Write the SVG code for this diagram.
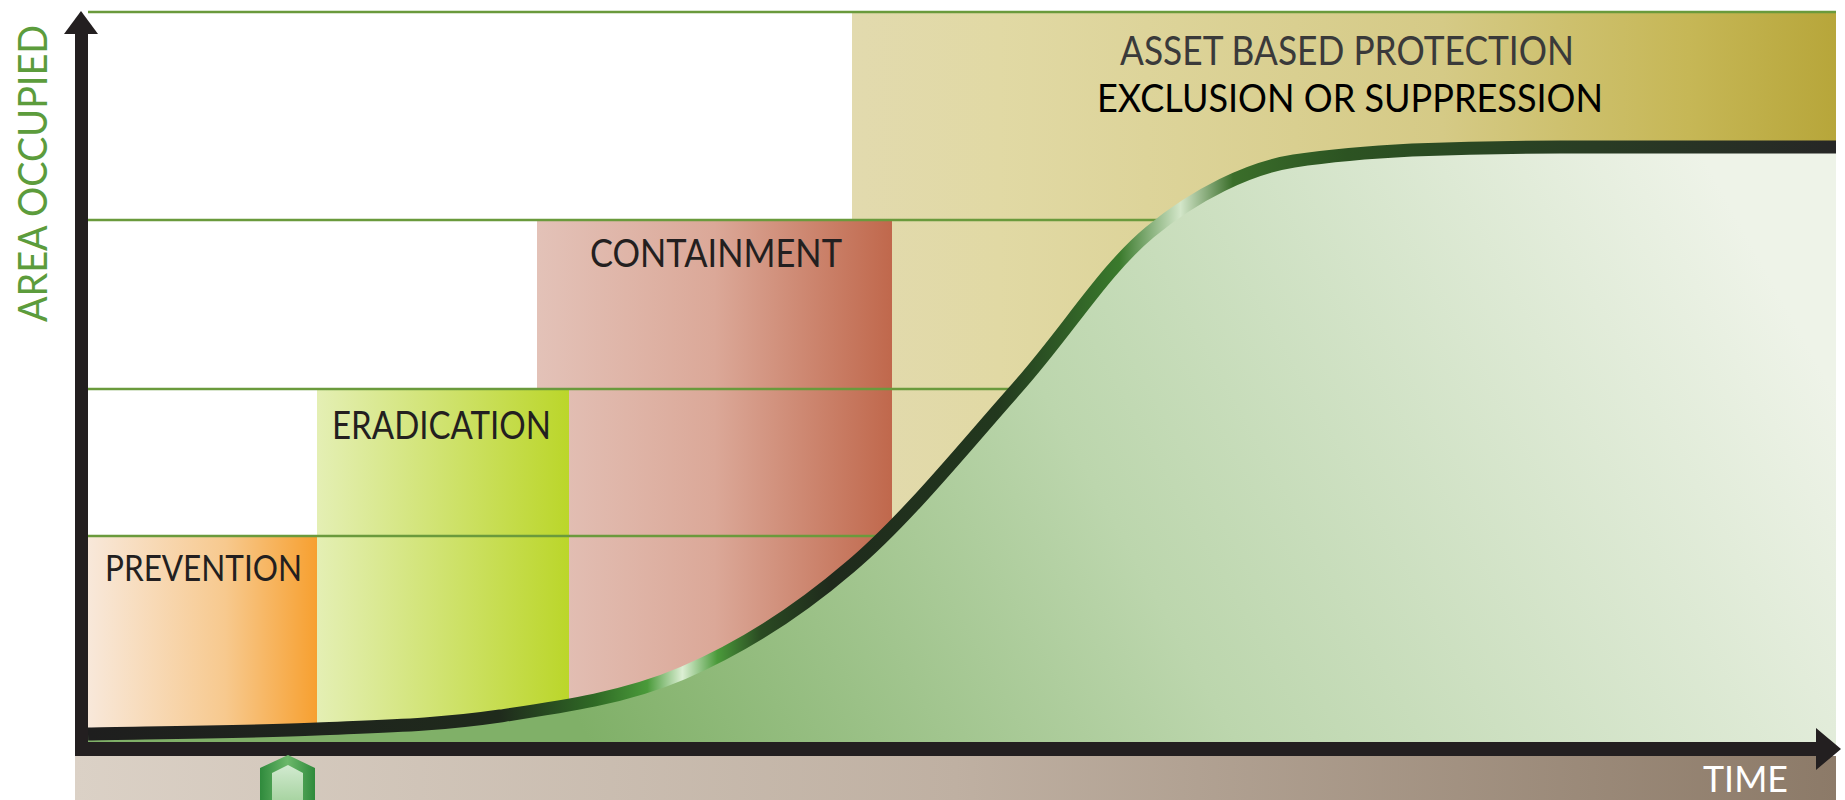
<svg xmlns="http://www.w3.org/2000/svg" width="1845" height="800" viewBox="0 0 1845 800">
<defs>
<linearGradient id="gPrev" x1="0" y1="0" x2="1" y2="0"><stop offset="0" stop-color="#f8e8da"/><stop offset="0.6" stop-color="#f7c98e"/><stop offset="1" stop-color="#f7a030"/></linearGradient>
<linearGradient id="gErad" x1="0" y1="0" x2="1" y2="0"><stop offset="0" stop-color="#e4efb4"/><stop offset="1" stop-color="#bbd62a"/></linearGradient>
<linearGradient id="gCont" x1="0" y1="0" x2="1" y2="0"><stop offset="0" stop-color="#e3c2b8"/><stop offset="0.5" stop-color="#dba898"/><stop offset="1" stop-color="#c0684c"/></linearGradient>
<linearGradient id="gAsset" x1="0" y1="0" x2="1" y2="0"><stop offset="0" stop-color="#e2daae"/><stop offset="0.15" stop-color="#e1d9a4"/><stop offset="0.6" stop-color="#d5ca86"/><stop offset="0.85" stop-color="#c6b756"/><stop offset="1" stop-color="#b7a63a"/></linearGradient>
<linearGradient id="gArea" gradientUnits="userSpaceOnUse" x1="600" y1="760" x2="1700" y2="150"><stop offset="0" stop-color="#80b068"/><stop offset="0.45" stop-color="#bcd6ad"/><stop offset="1" stop-color="#eef3e8"/></linearGradient>
<linearGradient id="gBand" x1="0" y1="0" x2="1" y2="0"><stop offset="0" stop-color="#dbd1c6"/><stop offset="0.5" stop-color="#bfb0a2"/><stop offset="1" stop-color="#8c7a68"/></linearGradient>
<linearGradient id="gCurve" gradientUnits="userSpaceOnUse" x1="88" y1="0" x2="1836" y2="0">
<stop offset="0" stop-color="#1e1e1e"/>
<stop offset="0.235" stop-color="#1f2a1c"/>
<stop offset="0.29" stop-color="#2f6a25"/>
<stop offset="0.32" stop-color="#4a9a3a"/>
<stop offset="0.34" stop-color="#dcefd4"/>
<stop offset="0.36" stop-color="#4a9a3a"/>
<stop offset="0.385" stop-color="#2a4a22"/>
<stop offset="0.425" stop-color="#1f2a1c"/>
<stop offset="0.52" stop-color="#22381e"/>
<stop offset="0.59" stop-color="#3a7a2c"/>
<stop offset="0.625" stop-color="#d3e6c9"/>
<stop offset="0.655" stop-color="#3a6e2a"/>
<stop offset="0.72" stop-color="#2c5322"/>
<stop offset="1" stop-color="#262626"/>
</linearGradient>
<linearGradient id="gArrowOuter" x1="0" y1="0" x2="1" y2="0"><stop offset="0" stop-color="#2f8a3c"/><stop offset="0.5" stop-color="#6cb86a"/><stop offset="1" stop-color="#2f8a3c"/></linearGradient>
<linearGradient id="gArrowInner" x1="0" y1="0" x2="0" y2="1"><stop offset="0" stop-color="#d2ead0"/><stop offset="1" stop-color="#a8d4a2"/></linearGradient>
<style>
.lbl{font-family:Lato,"Open Sans","Liberation Sans",sans-serif;fill:#231f20;}
.grid{stroke:#6a9a3c;stroke-width:2.5;fill:none;}
.axis{fill:#231f20;}
</style>
</defs>
<rect width="1845" height="800" fill="#ffffff"/>

<g id="asset-box"><rect x="852" y="13" width="984" height="730" fill="url(#gAsset)"/></g>
<g id="containment-box"><rect x="537" y="220" width="355" height="523" fill="url(#gCont)"/></g>
<g id="eradication-box"><rect x="317" y="389" width="252" height="354" fill="url(#gErad)"/></g>
<g id="prevention-box"><rect x="88" y="536" width="229" height="207" fill="url(#gPrev)"/></g>

<g id="gridlines">
<line class="grid" x1="88" y1="12" x2="1836" y2="12"/>
<line class="grid" x1="88" y1="220" x2="1836" y2="220"/>
<line class="grid" x1="88" y1="389" x2="1836" y2="389"/>
<line class="grid" x1="88" y1="536" x2="1836" y2="536"/>
</g>

<g id="area-under-curve">
<path d="M88,734 C126,733 248,732 317,729 C386,726 439,725 500,716 C561,707 625,698 683,673 C741,648 794,615 850,567 C906,520 967,444 1017,388 C1067,332 1104,270 1150,232 C1196,194 1249,168 1294,161 C1334,155 1372,152 1412,150 C1462,148 1520,147 1560,147 L1836,147 L1836,745 L88,745 Z" fill="url(#gArea)"/>
</g>

<g id="connectors">
<path id="growth-curve" d="M88,734 C126,733 248,732 317,729 C386,726 439,725 500,716 C561,707 625,698 683,673 C741,648 794,615 850,567 C906,520 967,444 1017,388 C1067,332 1104,270 1150,232 C1196,194 1249,168 1294,161 C1334,155 1372,152 1412,150 C1462,148 1520,147 1560,147 L1836,147" fill="none" stroke="url(#gCurve)" stroke-width="13"/>
</g>

<g id="time-band">
<rect x="75" y="756" width="1761" height="44" fill="url(#gBand)"/>
<text class="lbl" x="1703" y="792" font-size="36" textLength="85" lengthAdjust="spacingAndGlyphs" style="fill:#ffffff">TIME</text>
</g>

<g id="axes">
<rect class="axis" x="75" y="32" width="13" height="724"/>
<polygon class="axis" points="64,34 81,11 98,34"/>
<rect class="axis" x="75" y="742" width="1743" height="14"/>
<polygon class="axis" points="1816,728 1841,749 1816,770"/>
</g>

<g id="start-arrow">
<polygon points="260,800 260,768 288,755 315,768 315,800" fill="url(#gArrowOuter)"/>
<polygon points="272,800 272,773 288,765 303,773 303,800" fill="url(#gArrowInner)"/>
</g>

<g id="labels">
<text class="lbl" x="105" y="581" font-size="36" textLength="197" lengthAdjust="spacingAndGlyphs">PREVENTION</text>
<text class="lbl" x="332" y="439" font-size="38" textLength="219" lengthAdjust="spacingAndGlyphs">ERADICATION</text>
<text class="lbl" x="590" y="267" font-size="39" textLength="252" lengthAdjust="spacingAndGlyphs">CONTAINMENT</text>
<text class="lbl" x="1120" y="65" font-size="40" textLength="454" lengthAdjust="spacingAndGlyphs" style="fill:#3a3a3a">ASSET BASED PROTECTION</text>
<text class="lbl" x="1097" y="112" font-size="39" textLength="506" lengthAdjust="spacingAndGlyphs" style="fill:#000000">EXCLUSION OR SUPPRESSION</text>
<text class="lbl" transform="translate(47,322) rotate(-90)" x="0" y="0" font-size="40" textLength="297" lengthAdjust="spacingAndGlyphs" style="fill:#5c9c3c">AREA OCCUPIED</text>
</g>
</svg>
